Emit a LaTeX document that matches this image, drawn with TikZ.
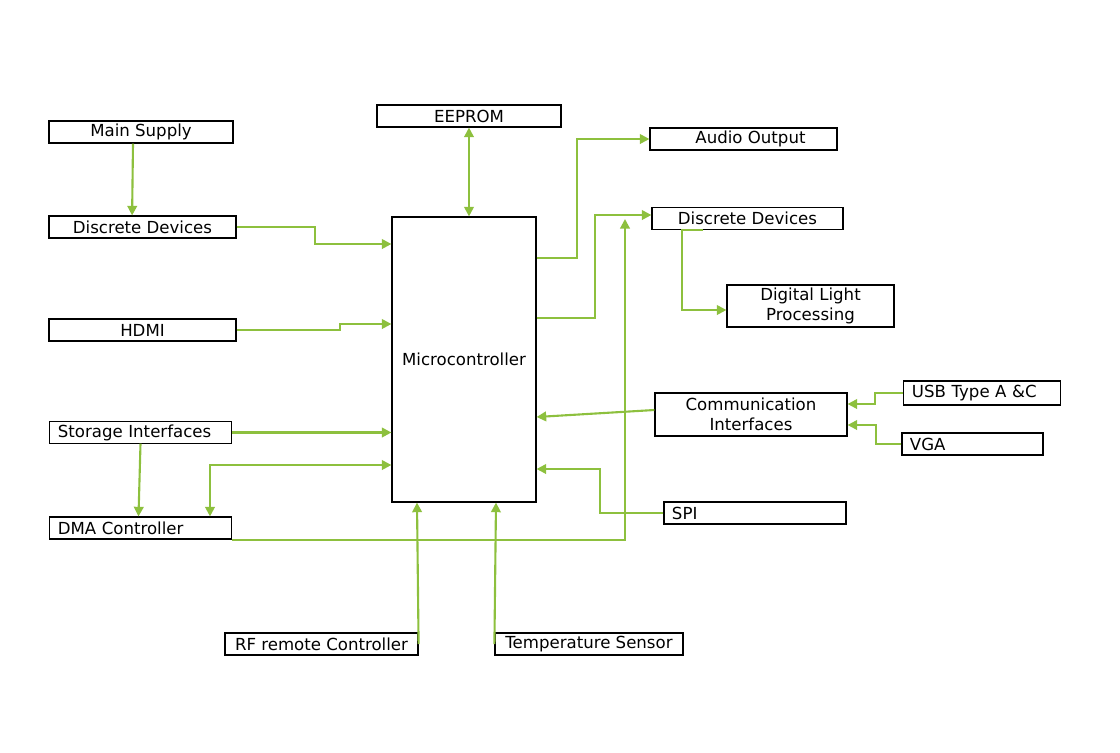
\documentclass[tikz,border=0pt]{standalone}
\usepackage{fontspec}
\setmainfont{DejaVu Sans}
\usepackage{xcolor}
\usepackage{tikz}
\usetikzlibrary{arrows.meta}

\definecolor{wire}{RGB}{141,192,62}

\begin{document}
\begin{tikzpicture}[
    x=0.025cm, y=-0.025cm,
    blk/.style={rectangle, draw=black, line width=0.8pt, fill=white,
                inner sep=0pt, align=center,
                font=\fontsize{11.8}{14}\selectfont},
    lblk/.style={blk, align=left, inner xsep=0.22cm},
    link/.style={-{Triangle[length=2.4mm, width=2.4mm]}, draw=wire, line width=1.5pt},
    dlink/.style={{Triangle[length=2.4mm, width=2.4mm]}-{Triangle[length=2.4mm, width=2.4mm]},
                  draw=wire, line width=1.5pt}
]
\useasboundingbox (0,0) rectangle (1120,752);

% --- left column ---
\node[blk, minimum width=4.6cm, minimum height=0.55cm] (mainsup) at (141,132) {Main Supply};
\node[blk, minimum width=4.675cm, minimum height=0.55cm] (discL) at (142.5,227) {Discrete Devices};
\node[blk, minimum width=4.675cm, minimum height=0.55cm] (hdmi) at (142.5,330) {HDMI};
\node[lblk, text width=4.13cm, minimum height=0.53cm] (storage) at (140.5,432.5) {Storage Interfaces};
\node[lblk, text width=4.13cm, minimum height=0.55cm] (dma) at (140.5,528) {DMA Controller};

% --- centre ---
\node[blk, minimum width=4.6cm, minimum height=0.55cm] (eeprom) at (469,116) {EEPROM};
\node[blk, minimum width=3.6cm, minimum height=7.125cm] (micro) at (464,359.5) {Microcontroller};
\node[blk, minimum width=4.825cm, minimum height=0.55cm] (rf) at (321.5,644) {RF remote Controller};
\node[blk, minimum width=4.7cm, minimum height=0.55cm] (temp) at (589,644) {Temperature Sensor};

% --- right side ---
\node[blk, minimum width=4.675cm, minimum height=0.55cm] (audio) at (743.5,139) {\hspace{0.35cm}Audio Output};
\node[blk, minimum width=4.775cm, minimum height=0.53cm] (discR) at (747.5,218.5) {Discrete Devices};
\node[blk, minimum width=4.175cm, minimum height=1.05cm] (dlp) at (810.5,306) {Digital Light\\Processing};
\node[blk, minimum width=4.8cm, minimum height=1.075cm] (comm) at (751,414.5) {Communication\\Interfaces};
\node[lblk, text width=3.5cm, minimum height=0.6cm] (usb) at (982,393) {USB Type A \&C};
\node[lblk, inner xsep=0.2cm, text width=3.125cm, minimum height=0.55cm] (vga) at (972.5,444) {VGA};
\node[lblk, inner xsep=0.2cm, text width=4.15cm, minimum height=0.55cm] (spi) at (755,513) {SPI};

% --- inputs on the left ---
\draw[link] ([xshift=-0.2cm]mainsup.south) -- ([xshift=-0.26cm]discL.north);
\draw[link] (discL.east) -- (315,227) |- (micro.west |- 0,244);
\draw[link] (hdmi.east) -- (340,330) |- (micro.west |- 0,324);
\draw[link] (storage.east) -- (micro.west |- storage.east);
\draw[link] (storage.south) -- ([xshift=-0.05cm]dma.north);
\draw[dlink] (dma.north -| 210,0) |- (micro.west |- 0,465);
\draw[link] (dma.south east) -| (625,219);

% --- top and bottom ---
\draw[dlink] (eeprom.south) -- (micro.north -| eeprom.south);
\draw[link] (rf.east) -- (micro.south -| 417,0);
\draw[link] (temp.west) -- (micro.south -| 496,0);

% --- outputs on the right ---
\draw[link] (micro.east |- 0,258) -- (577,258) |- (audio.west);
\draw[link] (micro.east |- 0,318) -- (595,318) |- (discR.west |- 0,215);
\draw[link] (discR.south -| 703,0) -- (discR.south -| 682,0) |- (dlp.west |- 0,310);
\draw[link] (comm.west |- 0,410) -- (micro.east |- 0,417);
\draw[link] (usb.west) -- (875,393) |- (comm.east |- 0,404);
\draw[link] (vga.west) -- (876,444) |- (comm.east |- 0,425);
\draw[link] (spi.west) -- (600,513) |- (micro.east |- 0,469);

\end{tikzpicture}
\end{document}
